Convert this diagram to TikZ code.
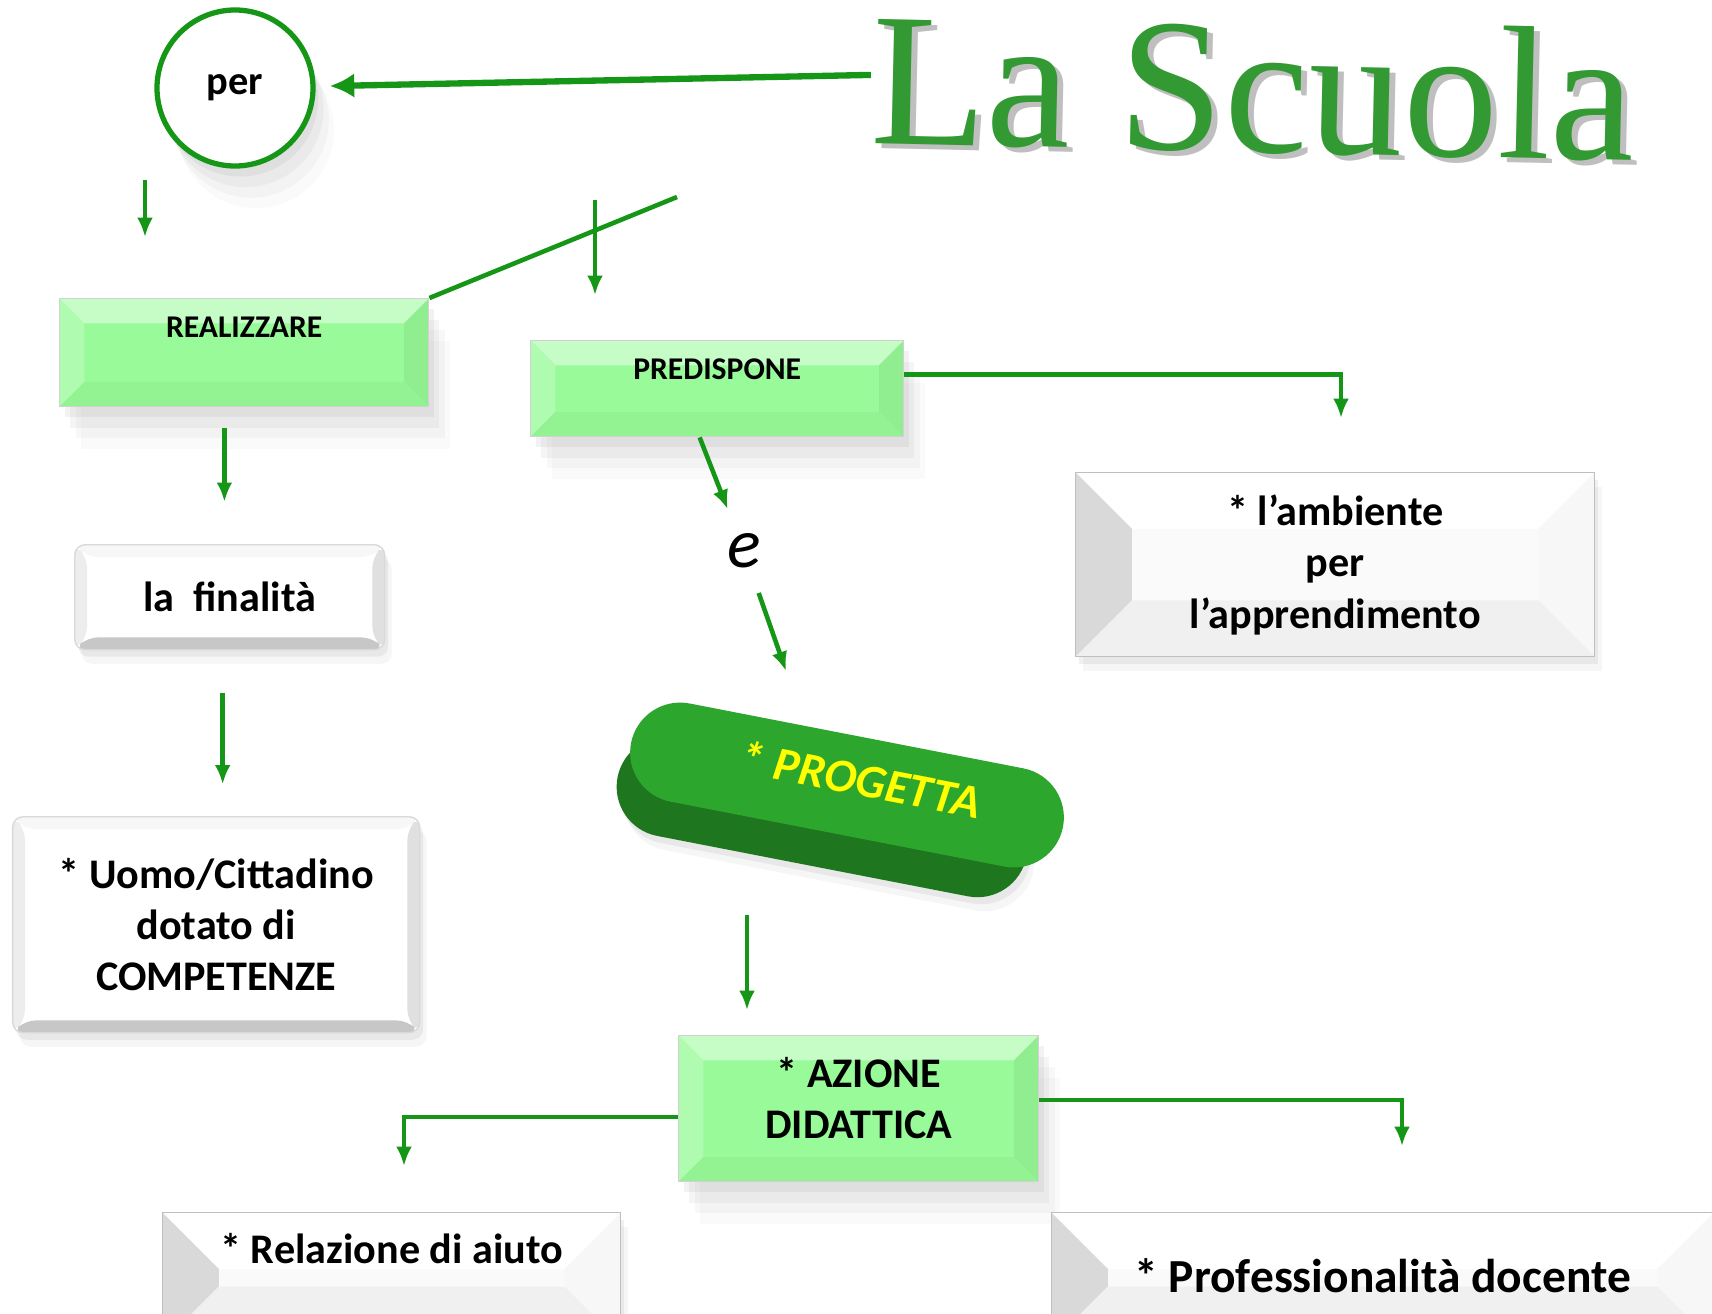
\documentclass[tikz,border=0pt]{standalone}
\usepackage{fontspec}
\setmainfont{Carlito}
\newfontfamily\titlefont{Liberation Serif}
\usepackage{xcolor}
\usepackage{tikz}
\usetikzlibrary{positioning, arrows.meta, shapes.misc, shadows}

\definecolor{verdechiaro}{RGB}{152,250,152}
\definecolor{verdefreccia}{RGB}{22,150,22}
\definecolor{verdetitolo}{RGB}{51,153,51}
\definecolor{verdepillola}{RGB}{45,166,45}
\definecolor{verdescuro}{RGB}{30,118,30}
\definecolor{giallo}{RGB}{255,255,0}

% bevel: width, top, left, right, bottom
\newcommand{\smusso}[5]{%
  \coordinate (bvnw) at (path picture bounding box.north west);
  \coordinate (bvne) at (path picture bounding box.north east);
  \coordinate (bvsw) at (path picture bounding box.south west);
  \coordinate (bvse) at (path picture bounding box.south east);
  \fill[#2] (bvnw) -- (bvne) -- ([shift={(-#1,-#1)}]bvne) -- ([shift={(#1,-#1)}]bvnw) -- cycle;
  \fill[#3] (bvnw) -- (bvsw) -- ([shift={(#1,#1)}]bvsw) -- ([shift={(#1,-#1)}]bvnw) -- cycle;
  \fill[#4] (bvne) -- (bvse) -- ([shift={(-#1,#1)}]bvse) -- ([shift={(-#1,-#1)}]bvne) -- cycle;
  \fill[#5] (bvsw) -- (bvse) -- ([shift={(-#1,#1)}]bvse) -- ([shift={(#1,#1)}]bvsw) -- cycle;
}

\tikzset{
  freccia/.style={draw=verdefreccia, line width=1.3pt, -{Latex[length=5.5pt,width=4.5pt]}},
  frecciagrossa/.style={draw=verdefreccia, line width=1.8pt, -{Latex[length=7pt,width=7pt]}},
  linea/.style={draw=verdefreccia, line width=1.3pt},
  % soft shadow made of a few faint layers
  ombra/.style={
    drop shadow={shadow xshift=1.5pt, shadow yshift=-3pt, opacity=0.10},
    drop shadow={shadow xshift=3pt, shadow yshift=-6pt, opacity=0.08},
    drop shadow={shadow xshift=4.5pt, shadow yshift=-9pt, opacity=0.06},
    drop shadow={shadow xshift=6pt, shadow yshift=-12pt, opacity=0.04}},
  ombralieve/.style={
    drop shadow={shadow xshift=1pt, shadow yshift=-2pt, opacity=0.12},
    drop shadow={shadow xshift=2pt, shadow yshift=-4pt, opacity=0.07}},
  boxverde/.style={draw=black!18, fill=verdechiaro, anchor=north west, inner sep=0pt, ombra,
    font=\bfseries\fontsize{9}{11}\selectfont,
    path picture={\smusso{7pt}{white!45!verdechiaro}{white!22!verdechiaro}{black!5!verdechiaro}{black!3!verdechiaro}}},
  boxbianco/.style={draw=black!15, fill=white, rounded corners=3pt, anchor=north west, align=center, ombralieve,
    font=\bfseries\fontsize{12}{14.6}\selectfont,
    path picture={\smusso{3.5pt}{black!3}{black!7}{black!12}{black!22}}},
  boxpiatto/.style={draw=black!25, fill=black!2, anchor=north west, align=center, inner sep=0pt, ombralieve,
    font=\bfseries\fontsize{12}{14.6}\selectfont,
    path picture={\smusso{16pt}{white}{black!15}{black!3}{black!6}}},
  titolo/.style={anchor=base, inner sep=0pt, rotate=-1.3, text=verdetitolo,
    font=\titlefont\fontsize{54}{60}\selectfont},
  cerchio/.style={circle, draw=verdefreccia, line width=1.5pt, fill=white, minimum size=1.56cm,
    font=\bfseries\fontsize{11.5}{13}\selectfont, ombra}
}

\begin{document}
\begin{tikzpicture}
  \useasboundingbox (0,0) rectangle (17.12,-13.13);
  \clip (0,0) rectangle (17.12,-13.13);

  % Title
  \node[titolo, text=black!25] (scuolaombra) at (12.58,-1.57) {La Scuola};
  \node[titolo] (scuola) at (12.52,-1.52) {La Scuola};

  % per
  \node[cerchio] (per) at (2.35,-0.88) {per};

  % Free ends
  \coordinate (cpera) at (1.45,-1.80);
  \coordinate (cperb) at (1.45,-2.37);
  \coordinate (cpreda) at (5.95,-2.00);
  \coordinate (cpredb) at (5.95,-2.95);
  \coordinate (cdiag) at (6.77,-1.97);
  \coordinate (camb) at (13.41,-4.18);
  \coordinate (cprog) at (7.86,-6.71);
  \coordinate (caza) at (7.47,-9.15);
  \coordinate (cazb) at (7.47,-10.10);
  \coordinate (crel) at (4.04,-11.66);
  \coordinate (cprof) at (14.02,-11.46);

  % Blocks
  \node[boxverde, minimum width=3.69cm, text height=11.1pt, text depth=19.6pt] (real) at (0.59,-2.98) {REALIZZARE};
  \node[boxverde, minimum width=3.73cm, text height=11.1pt, text depth=16.2pt] (pred) at (5.30,-3.40) {PREDISPONE};
  \node[boxbianco, minimum width=3.10cm, minimum height=1.05cm] (fin) at (0.74,-5.44) {la~~finalità};
  \node[boxbianco, minimum width=4.07cm, minimum height=2.16cm] (uomo) at (0.12,-8.16) {* Uomo/Cittadino\\dotato di\\COMPETENZE};
  \node[boxpiatto, minimum width=5.19cm, minimum height=1.84cm] (amb) at (10.75,-4.72) {* l’ambiente\\per\\l’apprendimento};
  \node[font=\itshape\fontsize{20}{24}\selectfont, inner sep=4pt] (e) at (7.44,-5.51) {e};

  % Pill
  \node[rounded rectangle, fill=verdescuro, minimum width=4.4cm, minimum height=1.0cm, rotate=-11, ombralieve] (progbase) at (8.22,-8.17) {};
  \node[rounded rectangle, fill=verdepillola, minimum width=4.4cm, minimum height=1.0cm, rotate=-11, inner sep=0pt,
    text=giallo, font=\bfseries\itshape\fontsize{13.5}{16}\selectfont] (prog) at (8.47,-7.85) {\hspace{2.5mm}\raisebox{5pt}{* PROGETTA}};

  \node[boxverde, minimum width=3.60cm, minimum height=1.46cm, align=center, font=\bfseries\fontsize{12}{14.6}\selectfont] (az) at (6.78,-10.35) {* AZIONE\\DIDATTICA\\[-8.4pt]};
  \node[boxpiatto, minimum width=4.58cm, text height=14.5pt, text depth=22.5pt, font=\bfseries\fontsize{12}{14.6}\selectfont] (rel) at (1.62,-12.12) {* Relazione di aiuto};
  \node[boxpiatto, minimum width=6.62cm, text height=22.8pt, text depth=14.2pt, font=\bfseries\fontsize{13.5}{16}\selectfont] (prof) at (10.51,-12.12) {* Professionalità docente};

  % Connectors
  \draw[frecciagrossa, shorten >=4pt] ([yshift=1pt]scuola.west) -- (per);
  \draw[freccia] (cpera) -- (cperb);
  \draw[linea] (real.north east) -- (cdiag);
  \draw[freccia] (cpreda) -- (cpredb);
  \draw[freccia, shorten <=6pt, shorten >=12pt] ([xshift=-1.5pt]fin.north |- real.south) -- ([xshift=-1.5pt]fin.north);
  \draw[freccia, shorten <=12pt, shorten >=9pt] ([xshift=-2pt]fin.south) -- ([xshift=-2pt]fin.south |- uomo.north);
  \draw[freccia] ([yshift=4pt]pred.east) -| (camb);
  \draw[freccia, shorten >=3pt] ([xshift=-5pt]pred.south) -- (e);
  \draw[freccia, shorten <=3pt] (e) -- (cprog);
  \draw[freccia] (caza) -- (cazb);
  \draw[freccia] ([yshift=-2.3pt]az.west) -| (crel);
  \draw[freccia] ([yshift=2.5pt]az.east) -| (cprof);
\end{tikzpicture}
\end{document}
